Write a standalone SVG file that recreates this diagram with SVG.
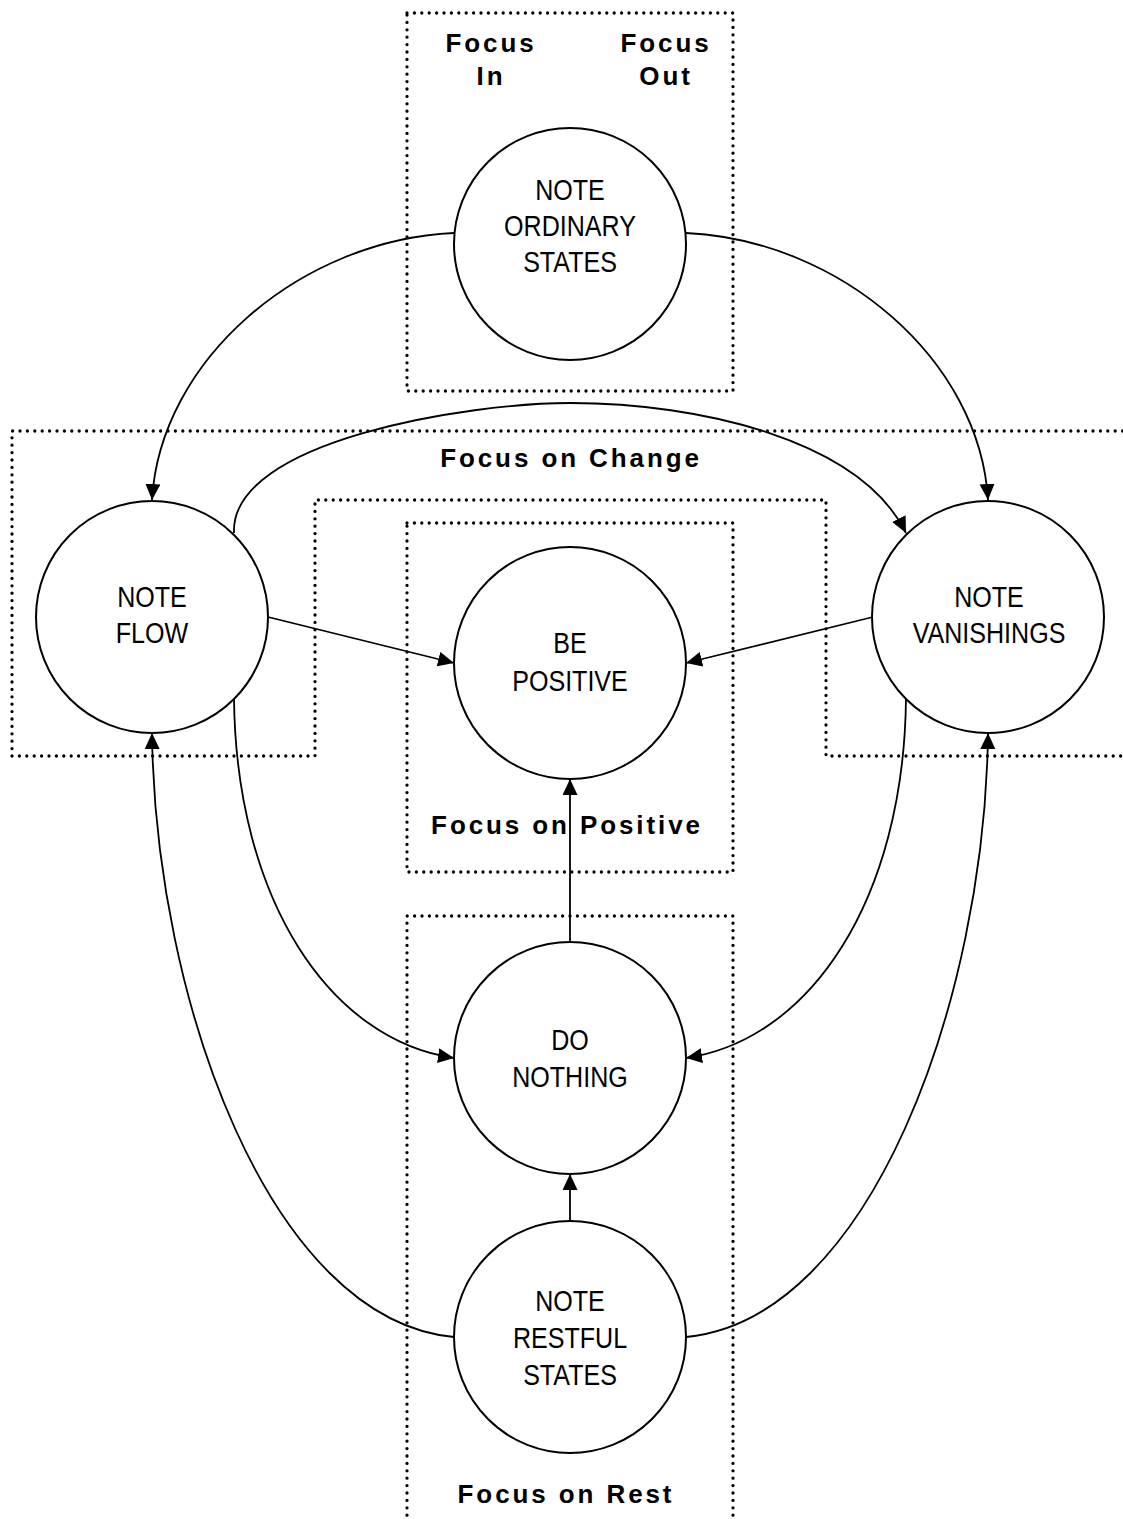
<svg xmlns="http://www.w3.org/2000/svg" width="1123" height="1519" viewBox="0 0 1123 1519">
<style>
.bg{fill:#fff}
.node{fill:#fff;stroke:#000;stroke-width:2}
.lbl{font-family:"Liberation Sans",Arial,sans-serif;font-size:29.5px;fill:#000;text-anchor:middle}
.grp{fill:none;stroke:#000;stroke-width:3.3;stroke-dasharray:0 7.4;stroke-linecap:round;stroke-linejoin:round}
.glbl{font-family:"Liberation Sans",Arial,sans-serif;font-size:26px;font-weight:bold;letter-spacing:2.9px;fill:#000;text-anchor:middle}
.edge{fill:none;stroke:#000;stroke-width:1.8;marker-end:url(#arr)}
</style>
<defs>
<marker id="arr" markerUnits="userSpaceOnUse" markerWidth="17" markerHeight="16" refX="16" refY="7.5" orient="auto">
<path d="M0,0 L16,7.5 L0,15 z" fill="#000"/>
</marker>
</defs>
<rect class="bg" x="0" y="0" width="1123" height="1519"/>

<g id="groups">
<g id="g-focus-in-out">
<rect class="grp" x="407" y="13" width="326" height="378"/>
<text class="glbl" x="491" y="52">Focus</text>
<text class="glbl" x="491" y="85">In</text>
<text class="glbl" x="666" y="52">Focus</text>
<text class="glbl" x="666" y="85">Out</text>
</g>
<g id="g-focus-change">
<path class="grp" d="M1130,431 L12,431 L12,756 L315,756 L315,500 L826,500 L826,756 L1130,756"/>
<text class="glbl" x="571" y="467">Focus on Change</text>
</g>
<g id="g-focus-positive">
<rect class="grp" x="407" y="523" width="326" height="349"/>
<text class="glbl" x="567" y="834">Focus on Positive</text>
</g>
<g id="g-focus-rest">
<path class="grp" d="M407,1530 L407,916 L733,916 L733,1530"/>
<text class="glbl" x="566" y="1503">Focus on Rest</text>
</g>
</g>

<g id="connectors">
<path class="edge" d="M454,233 C300,240 160,360 152,500"/>
<path class="edge" d="M686,233 C840,240 980,360 988,500"/>
<path class="edge" d="M234,533 C230,440 470,403 570,403 C700,403 860,440 906,533"/>
<path class="edge" d="M268,617 L454,663"/>
<path class="edge" d="M873,617 L686,663"/>
<path class="edge" d="M234,698 C236,900 330,1040 454,1058"/>
<path class="edge" d="M906,698 C904,900 810,1040 686,1058"/>
<path class="edge" d="M570,942 L570,779"/>
<path class="edge" d="M570,1221 L570,1174"/>
<path class="edge" d="M454,1337 C270,1320 155,1000 152,733"/>
<path class="edge" d="M686,1337 C870,1320 985,1000 988,733"/>
</g>

<g id="n-ordinary">
<circle class="node" cx="570" cy="244" r="116"/>
<text class="lbl" transform="translate(570 0) scale(0.85 1)"><tspan x="0" y="200">NOTE</tspan><tspan x="0" y="236">ORDINARY</tspan><tspan x="0" y="272">STATES</tspan></text>
</g>
<g id="n-flow">
<circle class="node" cx="152" cy="617" r="116"/>
<text class="lbl" transform="translate(152 0) scale(0.85 1)"><tspan x="0" y="607">NOTE</tspan><tspan x="0" y="643">FLOW</tspan></text>
</g>
<g id="n-vanishings">
<circle class="node" cx="988" cy="617" r="116"/>
<text class="lbl" transform="translate(989 0) scale(0.85 1)"><tspan x="0" y="607">NOTE</tspan><tspan x="0" y="643">VANISHINGS</tspan></text>
</g>
<g id="n-positive">
<circle class="node" cx="570" cy="663" r="116"/>
<text class="lbl" transform="translate(570 0) scale(0.85 1)"><tspan x="0" y="653">BE</tspan><tspan x="0" y="691">POSITIVE</tspan></text>
</g>
<g id="n-nothing">
<circle class="node" cx="570" cy="1058" r="116"/>
<text class="lbl" transform="translate(570 0) scale(0.85 1)"><tspan x="0" y="1050">DO</tspan><tspan x="0" y="1087">NOTHING</tspan></text>
</g>
<g id="n-restful">
<circle class="node" cx="570" cy="1337" r="116"/>
<text class="lbl" transform="translate(570 0) scale(0.85 1)"><tspan x="0" y="1311">NOTE</tspan><tspan x="0" y="1348">RESTFUL</tspan><tspan x="0" y="1385">STATES</tspan></text>
</g>
</svg>
